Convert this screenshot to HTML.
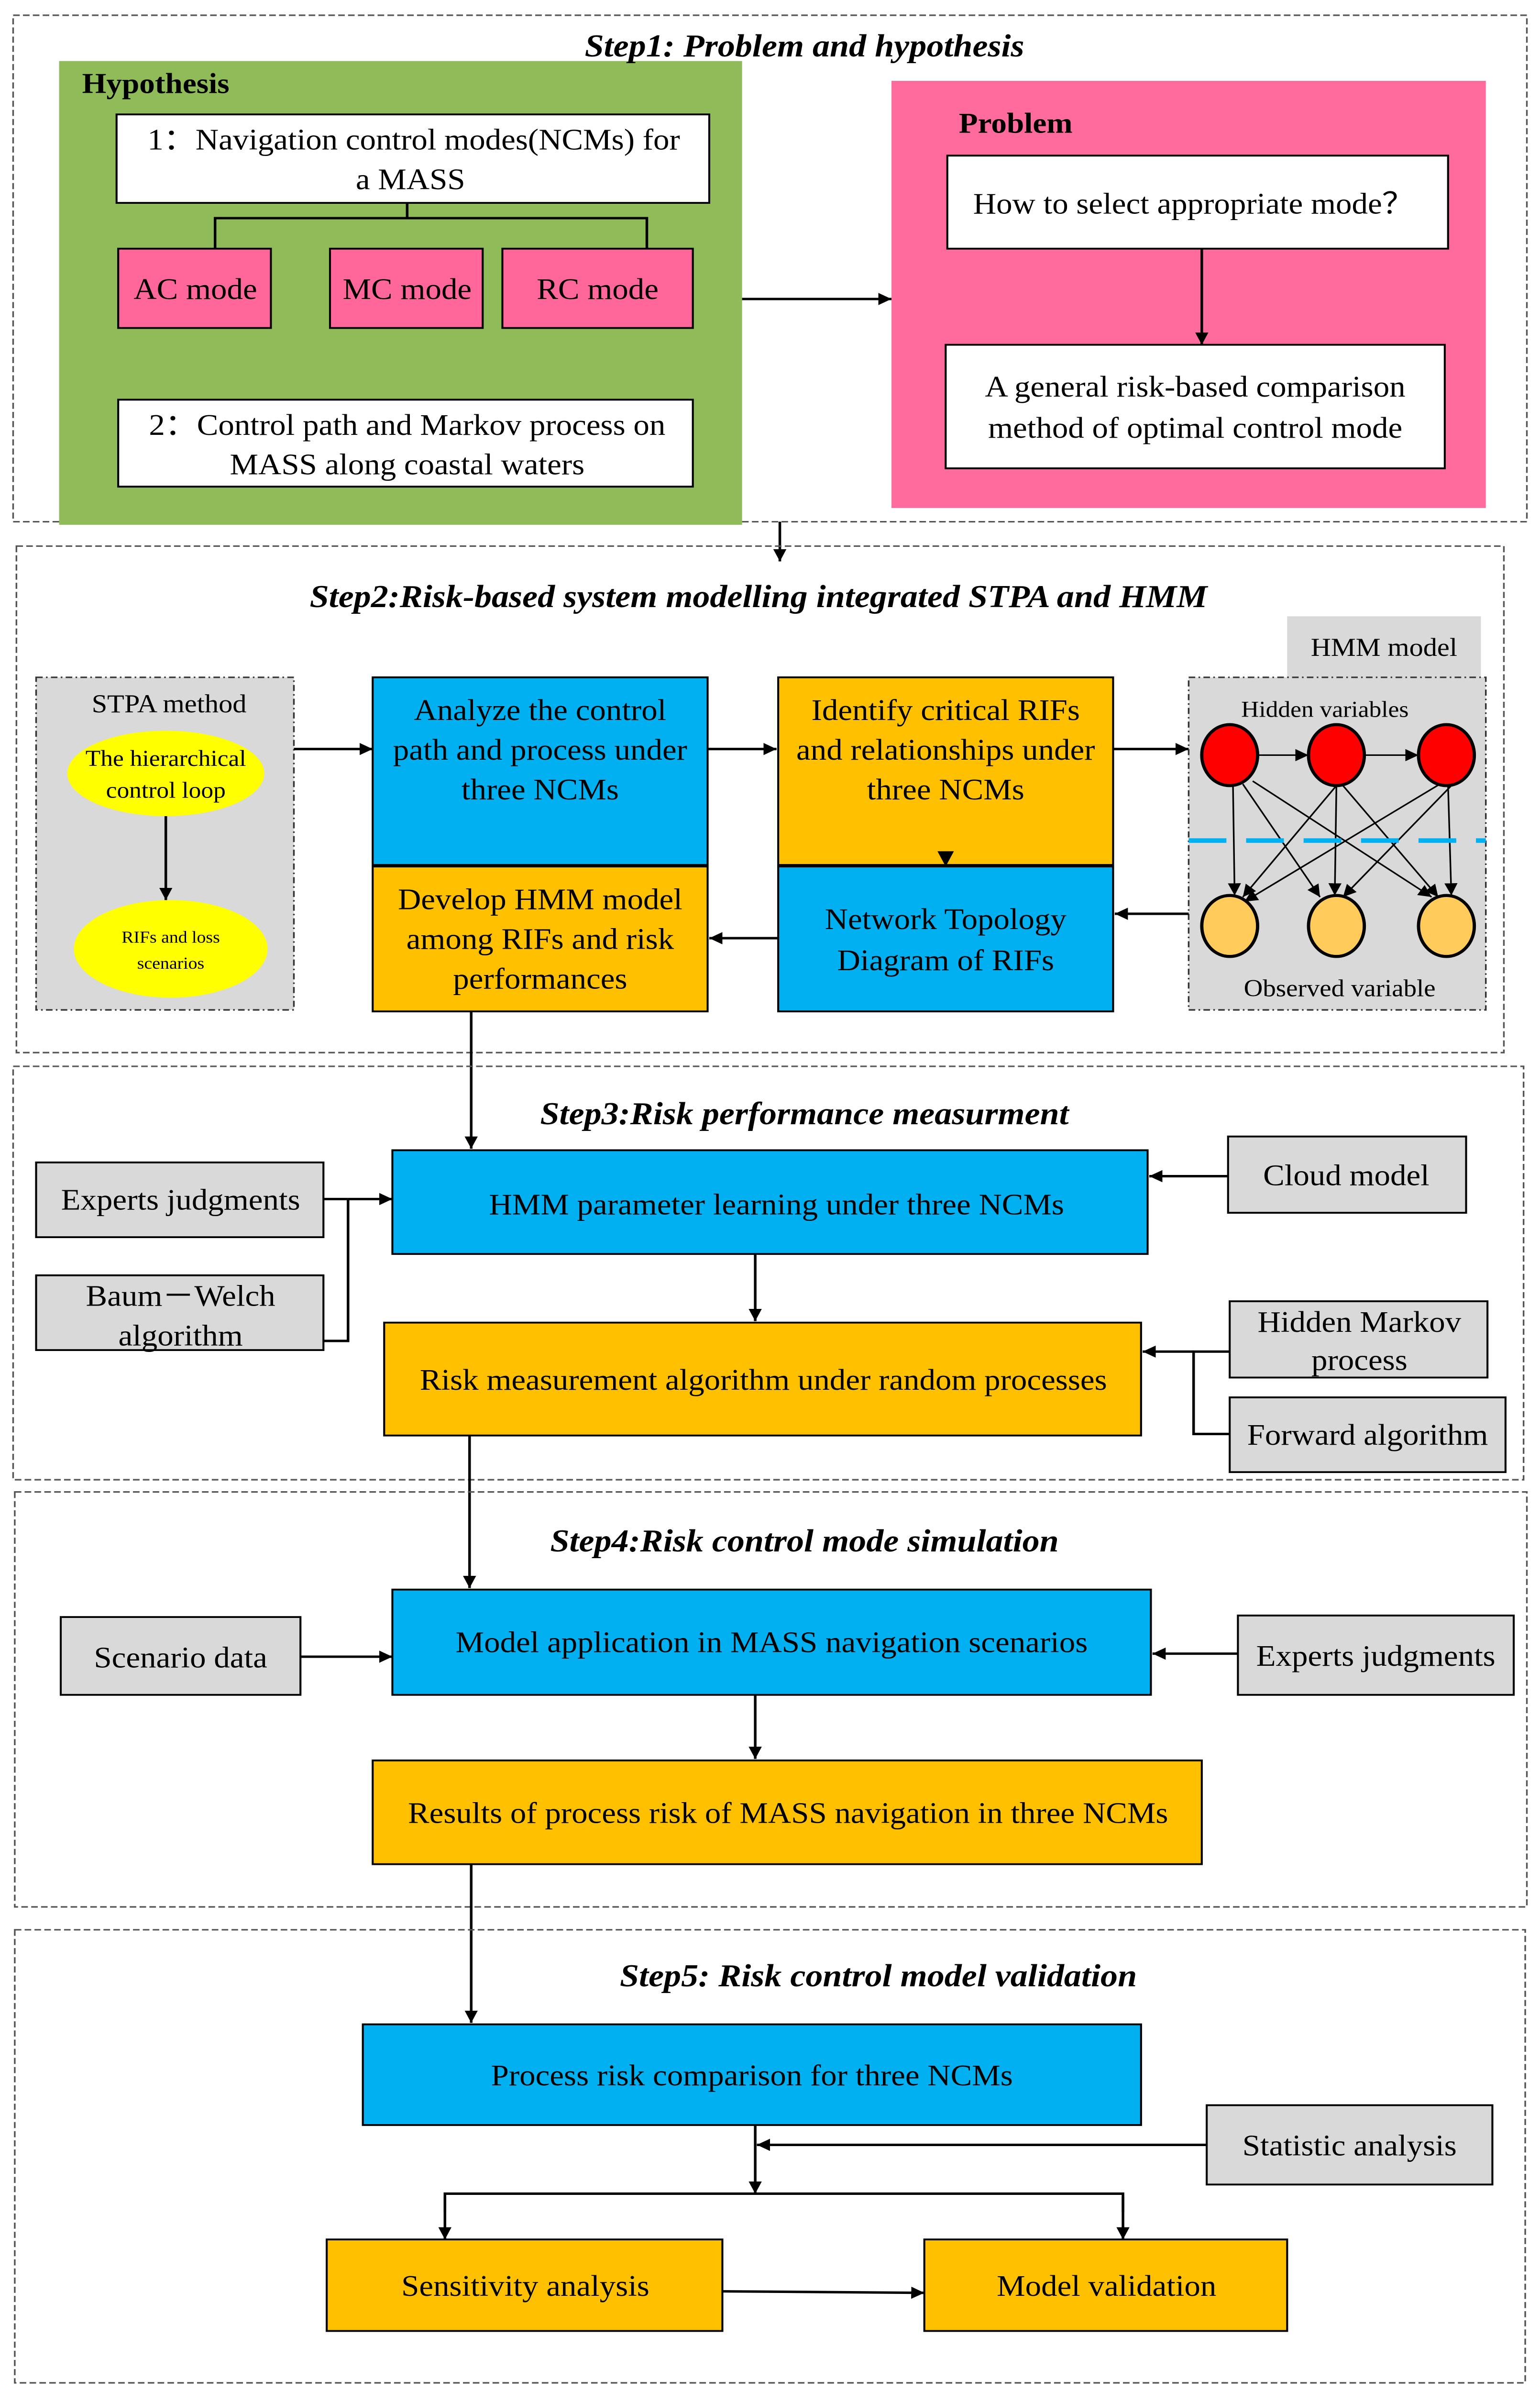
<!DOCTYPE html>
<html><head><meta charset="utf-8"><style>
html,body{margin:0;padding:0;background:#fff;width:100vw;height:100vh;overflow:hidden;}
svg{display:block;position:fixed;left:0;top:0;width:100vw;height:100vh;}
text{font-family:"Liberation Serif",serif;fill:#000;}
.t{font-size:19.5px;text-anchor:middle;}
.h{font-size:21px;font-weight:bold;font-style:italic;text-anchor:middle;}
.b{stroke:#000;stroke-width:1.2;}
.d{fill:none;stroke:#555;stroke-width:1;stroke-dasharray:4 2;}
.l{stroke:#000;stroke-width:1.6;fill:none;}
</style></head><body>
<svg viewBox="0 0 938 1568" preserveAspectRatio="none" xmlns="http://www.w3.org/2000/svg">
<defs>
<marker id="a" viewBox="0 0 10 10" refX="10" refY="5" markerWidth="8" markerHeight="8" orient="auto" markerUnits="userSpaceOnUse"><path d="M0,0L10,5L0,10z" fill="#000"/></marker>
</defs>

<!-- Step1 -->
<rect class="d" x="8" y="10" width="922" height="332"/>
<rect x="36" y="40" width="416" height="304" fill="#8fbc58"/>
<text x="50" y="61" style="font-size:19px;font-weight:bold">Hypothesis</text>
<rect class="b" x="71" y="75" width="361" height="58" fill="#fff"/>
<text class="t" x="252" y="98">1：Navigation control modes(NCMs) for</text>
<text class="t" x="250" y="124">a MASS</text>
<path class="l" d="M248,133V143M131,163V143H394V163" />
<rect class="b" x="72" y="163" width="93" height="52" fill="#ff6699"/><text class="t" x="119" y="196">AC mode</text>
<rect class="b" x="201" y="163" width="93" height="52" fill="#ff6699"/><text class="t" x="248" y="196">MC mode</text>
<rect class="b" x="306" y="163" width="116" height="52" fill="#ff6699"/><text class="t" x="364" y="196">RC mode</text>
<rect class="b" x="72" y="262" width="350" height="57" fill="#fff"/>
<text class="t" x="248" y="285">2：Control path and Markov process on</text>
<text class="t" x="248" y="311">MASS along coastal waters</text>
<line class="l" x1="452" y1="196" x2="543" y2="196" marker-end="url(#a)"/>
<rect x="543" y="53" width="362" height="280" fill="#ff6b9c"/>
<text x="584" y="87" style="font-size:19px;font-weight:bold">Problem</text>
<rect class="b" x="577" y="102" width="305" height="61" fill="#fff"/>
<text class="t" x="727" y="140">How to select appropriate mode？</text>
<line class="l" x1="732" y1="163" x2="732" y2="226" marker-end="url(#a)"/>
<rect class="b" x="576" y="226" width="304" height="81" fill="#fff"/>
<text class="t" x="728" y="260">A general risk-based comparison</text>
<text class="t" x="728" y="287">method of optimal control mode</text>
<text class="h" x="490" y="37">Step1: Problem and hypothesis</text>
<line class="l" x1="475" y1="342" x2="475" y2="368" marker-end="url(#a)"/>

<!-- Step2 -->
<rect class="d" x="10" y="358" width="906" height="332"/>
<text class="h" x="462" y="398">Step2:Risk-based system modelling integrated STPA and HMM</text>
<rect x="22" y="444" width="157" height="218" fill="#d9d9d9" stroke="#333" stroke-dasharray="4 2 1 2"/>
<text class="t" x="103" y="467" style="font-size:17px">STPA method</text>
<ellipse cx="101" cy="507" rx="60" ry="28" fill="#ffff00"/>
<text class="t" x="101" y="502" style="font-size:15px">The hierarchical</text>
<text class="t" x="101" y="523" style="font-size:15px">control loop</text>
<line class="l" x1="101" y1="535" x2="101" y2="590" marker-end="url(#a)"/>
<ellipse cx="104" cy="622" rx="59" ry="32" fill="#ffff00"/>
<text class="t" x="104" y="618" style="font-size:11px">RIFs and loss</text>
<text class="t" x="104" y="635" style="font-size:11px">scenarios</text>
<line class="l" x1="179" y1="491" x2="227" y2="491" marker-end="url(#a)"/>
<rect class="b" x="227" y="444" width="204" height="123" fill="#00b0f0"/>
<text class="t" x="329" y="472">Analyze the control</text>
<text class="t" x="329" y="498">path and process  under</text>
<text class="t" x="329" y="524">three NCMs</text>
<line class="l" x1="431" y1="491" x2="473" y2="491" marker-end="url(#a)"/>
<rect class="b" x="474" y="444" width="204" height="123" fill="#ffc000"/>
<text class="t" x="576" y="472">Identify critical  RIFs</text>
<text class="t" x="576" y="498">and relationships under</text>
<text class="t" x="576" y="524">three NCMs</text>
<line class="l" x1="678" y1="491" x2="724" y2="491" marker-end="url(#a)"/>
<rect x="784" y="404" width="118" height="40" fill="#d9d9d9"/>
<text class="t" x="843" y="430" style="font-size:17px">HMM model</text>
<rect x="724" y="444" width="181" height="218" fill="#d9d9d9" stroke="#333" stroke-dasharray="4 2 1 2"/>
<text class="t" x="807" y="470" style="font-size:15px">Hidden variables</text>
<g class="l" style="stroke-width:1">
<line x1="766" y1="495" x2="797" y2="495" marker-end="url(#a)"/>
<line x1="831" y1="495" x2="864" y2="495" marker-end="url(#a)"/>
<line x1="751" y1="515" x2="752" y2="587" marker-end="url(#a)"/>
<line x1="757" y1="514" x2="804" y2="588" marker-end="url(#a)"/>
<line x1="763" y1="512" x2="872" y2="588" marker-end="url(#a)"/>
<line x1="814" y1="515" x2="757" y2="588" marker-end="url(#a)"/>
<line x1="814" y1="515" x2="813" y2="587" marker-end="url(#a)"/>
<line x1="818" y1="515" x2="876" y2="588" marker-end="url(#a)"/>
<line x1="877" y1="514" x2="758" y2="591" marker-end="url(#a)"/>
<line x1="884" y1="515" x2="818" y2="588" marker-end="url(#a)"/>
<line x1="882" y1="515" x2="884" y2="587" marker-end="url(#a)"/>
</g>
<line x1="724" y1="551" x2="905" y2="551" stroke="#00b0f0" stroke-width="3" stroke-dasharray="23 12"/>
<g stroke="#000" stroke-width="2">
<ellipse cx="749" cy="495" rx="17" ry="20" fill="#ff0000"/>
<ellipse cx="814" cy="495" rx="17" ry="20" fill="#ff0000"/>
<ellipse cx="881" cy="495" rx="17" ry="20" fill="#ff0000"/>
<ellipse cx="749" cy="607" rx="17" ry="20" fill="#ffcc5c"/>
<ellipse cx="814" cy="607" rx="17" ry="20" fill="#ffcc5c"/>
<ellipse cx="881" cy="607" rx="17" ry="20" fill="#ffcc5c"/>
</g>
<text class="t" x="816" y="653" style="font-size:16px">Observed variable</text>
<rect class="b" x="474" y="568" width="204" height="95" fill="#00b0f0"/>
<path d="M571,558L581,558L576,568z" fill="#000"/>
<text class="t" x="576" y="609">Network Topology</text>
<text class="t" x="576" y="636">Diagram of RIFs</text>
<line class="l" x1="724" y1="599" x2="679" y2="599" marker-end="url(#a)"/>
<line class="l" x1="474" y1="615" x2="432" y2="615" marker-end="url(#a)"/>
<rect class="b" x="227" y="568" width="204" height="95" fill="#ffc000"/>
<text class="t" x="329" y="596">Develop HMM model</text>
<text class="t" x="329" y="622">among RIFs and risk</text>
<text class="t" x="329" y="648">performances</text>
<line class="l" x1="287" y1="663" x2="287" y2="753" marker-end="url(#a)"/>

<!-- Step3 -->
<rect class="d" x="8" y="699" width="920" height="271"/>
<text class="h" x="490" y="737">Step3:Risk performance measurment</text>
<rect class="b" x="22" y="762" width="175" height="49" fill="#d9d9d9"/><text class="t" x="110" y="793">Experts judgments</text>
<rect class="b" x="22" y="836" width="175" height="49" fill="#d9d9d9"/>
<text class="t" x="110" y="856">Baum－Welch</text><text class="t" x="110" y="882">algorithm</text>
<path class="l" d="M197,786H212M197,879H212V786"/>
<line class="l" x1="212" y1="786" x2="239" y2="786" marker-end="url(#a)"/>
<rect class="b" x="239" y="754" width="460" height="68" fill="#00b0f0"/>
<text class="t" x="473" y="796">HMM   parameter learning under three NCMs</text>
<rect class="b" x="748" y="745" width="145" height="50" fill="#d9d9d9"/><text class="t" x="820" y="777">Cloud model</text>
<line class="l" x1="748" y1="771" x2="700" y2="771" marker-end="url(#a)"/>
<line class="l" x1="460" y1="822" x2="460" y2="866" marker-end="url(#a)"/>
<rect class="b" x="234" y="867" width="461" height="74" fill="#ffc000"/>
<text class="t" x="465" y="911">Risk measurement algorithm under random processes</text>
<rect class="b" x="749" y="853" width="157" height="50" fill="#d9d9d9"/>
<text class="t" x="828" y="873">Hidden Markov</text><text class="t" x="828" y="898">process</text>
<rect class="b" x="749" y="916" width="168" height="49" fill="#d9d9d9"/><text class="t" x="833" y="947">Forward algorithm</text>
<path class="l" d="M749,886H727V940H749"/>
<line class="l" x1="727" y1="886" x2="696" y2="886" marker-end="url(#a)"/>
<line class="l" x1="286" y1="941" x2="286" y2="1041" marker-end="url(#a)"/>

<!-- Step4 -->
<rect class="d" x="9" y="978" width="921" height="272"/>
<text class="h" x="490" y="1017">Step4:Risk control mode simulation</text>
<rect class="b" x="37" y="1060" width="146" height="51" fill="#d9d9d9"/><text class="t" x="110" y="1093">Scenario data</text>
<line class="l" x1="183" y1="1086" x2="239" y2="1086" marker-end="url(#a)"/>
<rect class="b" x="239" y="1042" width="462" height="69" fill="#00b0f0"/>
<text class="t" x="470" y="1083">Model application in MASS navigation scenarios</text>
<rect class="b" x="754" y="1059" width="168" height="52" fill="#d9d9d9"/><text class="t" x="838" y="1092">Experts judgments</text>
<line class="l" x1="754" y1="1084" x2="702" y2="1084" marker-end="url(#a)"/>
<line class="l" x1="460" y1="1111" x2="460" y2="1153" marker-end="url(#a)"/>
<rect class="b" x="227" y="1154" width="505" height="68" fill="#ffc000"/>
<text class="t" x="480" y="1195">Results of process risk of MASS navigation in  three NCMs</text>
<line class="l" x1="287" y1="1222" x2="287" y2="1326" marker-end="url(#a)"/>

<!-- Step5 -->
<rect class="d" x="9" y="1265" width="920" height="297"/>
<text class="h" x="535" y="1302">Step5: Risk control model validation</text>
<rect class="b" x="221" y="1327" width="474" height="66" fill="#00b0f0"/>
<text class="t" x="458" y="1367">Process risk comparison for three NCMs</text>
<rect class="b" x="735" y="1380" width="174" height="52" fill="#d9d9d9"/><text class="t" x="822" y="1413">Statistic analysis</text>
<line class="l" x1="735" y1="1406" x2="461" y2="1406" marker-end="url(#a)"/>
<line class="l" x1="460" y1="1393" x2="460" y2="1438" marker-end="url(#a)"/>
<path class="l" d="M271,1450V1438H684V1450"/>
<line class="l" x1="271" y1="1440" x2="271" y2="1468" marker-end="url(#a)"/>
<line class="l" x1="684" y1="1440" x2="684" y2="1468" marker-end="url(#a)"/>
<rect class="b" x="199" y="1468" width="241" height="60" fill="#ffc000"/><text class="t" x="320" y="1505">Sensitivity analysis</text>
<rect class="b" x="563" y="1468" width="221" height="60" fill="#ffc000"/><text class="t" x="674" y="1505">Model validation</text>
<line class="l" x1="440" y1="1502" x2="563" y2="1503" marker-end="url(#a)"/>
</svg>
</body></html>
